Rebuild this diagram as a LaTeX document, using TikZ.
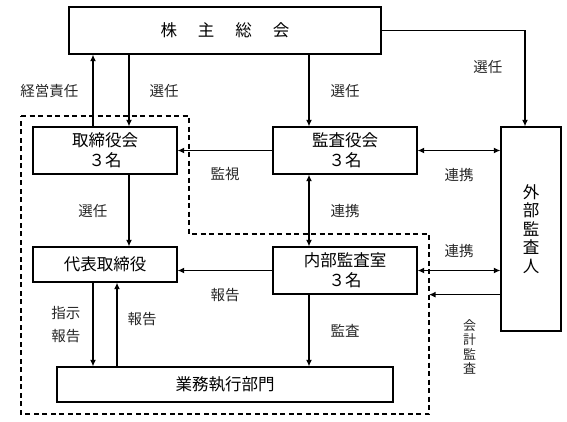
\documentclass[tikz,border=0pt]{standalone}
\usepackage{fontspec}
\usepackage{tikz}
\newfontfamily\jpfont{Noto Sans CJK JP}
\usetikzlibrary{arrows.meta}
\tikzstyle{soshiki} = [rectangle,
                       minimum width=144pt,
                       minimum height=47pt,
                       inner sep=0pt,
                       text centered,
                       align=center,
                       draw=black,
                       line width=1.3pt,
                       font=\jpfont\fontsize{16.5}{20}\selectfont]
\tikzstyle{setsumei} = [inner sep=0pt,
                        align=center,
                        text=black!85,
                        font=\jpfont\fontsize{14.5}{23}\selectfont]
\tikzstyle{arrow} = [line width=1.3pt,
                     ->,
                     >={Latex[length=6.5pt,width=6pt]}]
\tikzstyle{waku} = [line width=1.2pt,
                    dash pattern=on 5pt off 3.5pt]

\begin{document}
\begin{tikzpicture}[node distance=120pt]
    \useasboundingbox (0,0) rectangle (567pt,-421pt);

    \node (soukai)      [soshiki, minimum width=312pt] at (225pt,-30.5pt) {株\hspace{21pt}主\hspace{21pt}総\hspace{21pt}会};
    \node (torishimari) [soshiki, below of=soukai, xshift=-120pt]            {取締役会\\３名};
    \node (kansayaku)   [soshiki, right of=torishimari, xshift=120pt]        {監査役会\\３名};
    \node (daihyo)      [soshiki, minimum height=35pt, below of=torishimari, yshift=6pt] {代表取締役};
    \node (naibu)       [soshiki, below of=kansayaku]                        {内部監査室\\３名};
    \node (gyomu)       [soshiki, minimum width=336pt, minimum height=35pt, below of=daihyo, xshift=120pt] {業務執行部門};
    \node (gaibu)       [soshiki, minimum width=60pt, minimum height=204pt, right of=kansayaku, xshift=66pt, yshift=-78.5pt,
                         font=\jpfont\fontsize{16.5}{18.5}\selectfont]       {外\\部\\監\\査\\人};

    % 点線の枠
    \coordinate (wakukado) at (429pt,-234pt);
    \draw [waku] (21pt,-116pt) -| (189pt,-234pt) -| (429pt,-414pt) -- (21pt,-414pt) -- cycle;

    \draw [arrow] ([xshift=-12pt]torishimari.north) -- node[setsumei, left=14pt] {経営責任} ([xshift=-12pt]torishimari.north |- soukai.south);
    \draw [arrow] ([xshift=24pt]torishimari.north |- soukai.south) -- node[setsumei, right=20pt] {選任} ([xshift=24pt]torishimari.north);
    \draw [arrow] ([xshift=-36pt]kansayaku.north |- soukai.south) -- node[setsumei, right=21pt] {選任} ([xshift=-36pt]kansayaku.north);
    \draw [arrow] (soukai.east) -| node[setsumei, pos=0.69, left=22pt] {選任} ([xshift=-6pt]gaibu.north);
    \draw [arrow] (kansayaku) -- node[setsumei, below=16pt] {監視} (torishimari);
    \draw [arrow, <->] (kansayaku) -- node[setsumei, below=17pt] {連携} (kansayaku -| gaibu.west);
    \draw [arrow] ([xshift=24pt]torishimari.south) -- node[setsumei, left=21pt] {選任} ([xshift=24pt]torishimari.south |- daihyo.north);
    \draw [arrow, <->] ([xshift=-36pt]kansayaku.south) -- node[setsumei, right=21pt] {連携} ([xshift=-36pt]kansayaku.south |- naibu.north);
    \draw [arrow] (naibu.west) -- node[setsumei, below=17pt] {報告} (naibu.west -| daihyo.east);
    \draw [arrow, <->] (naibu.east) -- node[setsumei, above=12pt] {連携} (naibu.east -| gaibu.west);
    \draw [arrow] (naibu.south -| gaibu.west) -- node[setsumei, below=24pt, xshift=5pt,
                  font=\jpfont\fontsize{13}{14.5}\selectfont] {会\\計\\監\\査} (naibu.south -| wakukado);
    \draw [arrow] ([xshift=-12pt]daihyo.south) -- node[setsumei, left=12pt] {指示\\報告} ([xshift=-12pt]daihyo.south |- gyomu.north);
    \draw [arrow] ([xshift=12pt]daihyo.south |- gyomu.north) -- node[setsumei, right=10pt, yshift=5.5pt] {報告} ([xshift=12pt]daihyo.south);
    \draw [arrow] ([xshift=-36pt]naibu.south) -- node[setsumei, right=21pt] {監査} ([xshift=-36pt]naibu.south |- gyomu.north);

\end{tikzpicture}
\end{document}
